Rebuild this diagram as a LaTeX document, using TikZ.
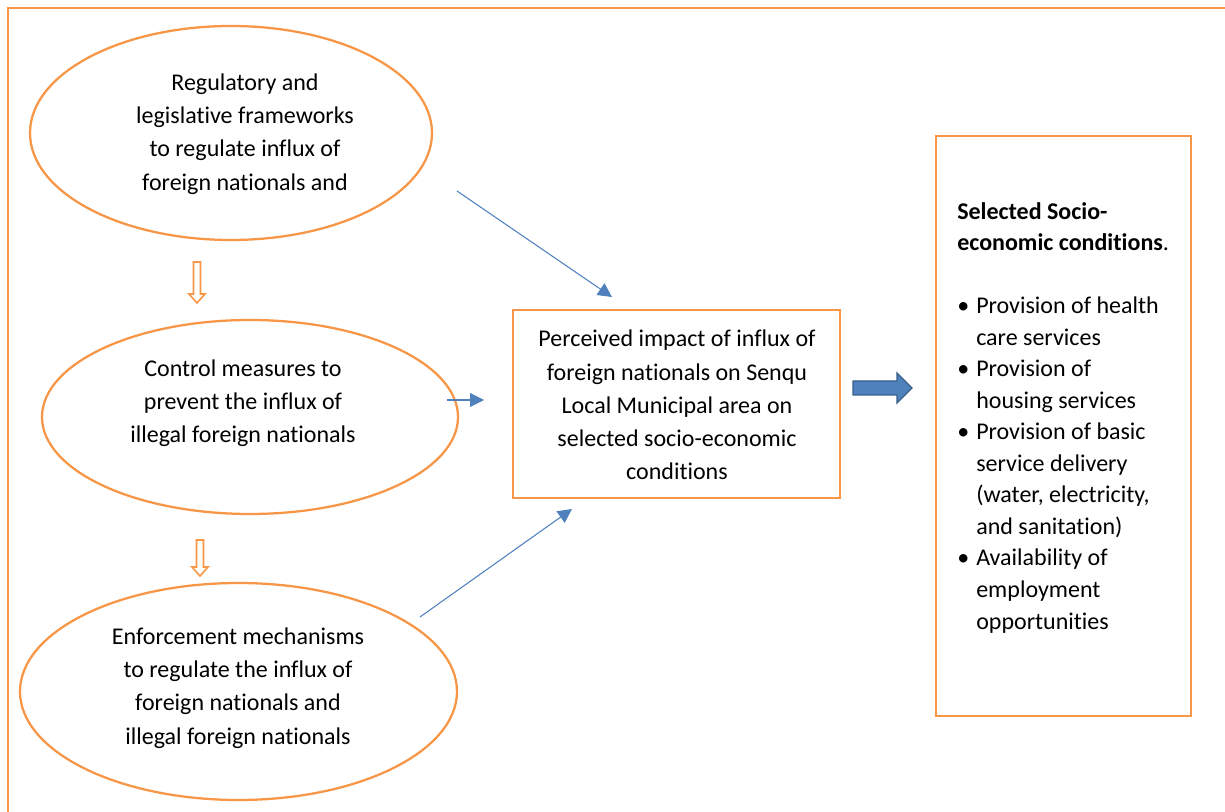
\documentclass[tikz,border=0pt]{standalone}
\usepackage{fontspec}
\setmainfont{Carlito}[Ligatures={NoCommon,NoRequired,NoContextual}]
\usetikzlibrary{shapes.geometric,arrows.meta}
\definecolor{orng}{HTML}{F79646}
\definecolor{blu}{HTML}{4F81BD}
\definecolor{bludark}{HTML}{385D8A}
\begin{document}
\begin{tikzpicture}[x=0.75pt,y=-0.75pt,
  oval/.style={draw=orng,line width=1.7pt,ellipse,inner sep=0pt},
  txt/.style={align=center,font=\fontsize{18}{24.9}\selectfont,inner sep=0pt},
  boxo/.style={draw=orng,line width=1.7pt,rectangle,inner sep=0pt},
  conn/.style={draw=blu,line width=0.8pt,-{Triangle[length=10.5pt,width=10.5pt]}},
  hollow/.style={draw=orng,line width=1.2pt,fill=white,line join=miter},
  block/.style={draw=bludark,line width=1pt,fill=blu}]
\useasboundingbox (0,0) rectangle (1225,812);
% outer frame
\draw[orng,line width=1.7pt] (8,812) -- (8,8) -- (1225,8);
% ellipses
\node[oval,minimum width=301.5pt,minimum height=160.5pt] (e1) at (231,133) {};
\node[txt] (t1) at (245,134) {Regulatory and\\legislative frameworks\\to regulate influx of\\foreign nationals and};
\node[oval,minimum width=312pt,minimum height=145.5pt] (e2) at (250,417) {};
\node[txt] (t2) at (243,403) {Control measures to\\prevent the influx of\\illegal foreign nationals};
\node[oval,minimum width=327.75pt,minimum height=162.75pt] (e3) at (238.5,691.5) {};
\node[txt] (t3) at (238,688) {Enforcement mechanisms\\to regulate the influx of\\foreign nationals and\\illegal foreign nationals};
% middle box
\node[boxo,minimum width=245.25pt,minimum height=141pt] (mid) at (676.5,404) {};
\node[txt] (tm) at (677,405) {Perceived impact of influx of\\foreign nationals on Senqu\\Local Municipal area on\\selected socio-economic\\conditions};
% right box
\node[boxo,minimum width=191.25pt,minimum height=435pt] (right) at (1063.5,426) {};
\node[anchor=north west,align=left,inner sep=0pt,font=\fontsize{18}{23.65}\selectfont] (tr) at (957,202) {%
\textbf{Selected Socio-}\\
\textbf{economic conditions}.\\
\mbox{}\\
\makebox[14.25pt][l]{\textbullet}Provision of health\\
\hspace*{14.25pt}care services\\
\makebox[14.25pt][l]{\textbullet}Provision of\\
\hspace*{14.25pt}housing services\\
\makebox[14.25pt][l]{\textbullet}Provision of basic\\
\hspace*{14.25pt}service delivery\\
\hspace*{14.25pt}(water, electricity,\\
\hspace*{14.25pt}and sanitation)\\
\makebox[14.25pt][l]{\textbullet}Availability of\\
\hspace*{14.25pt}employment\\
\hspace*{14.25pt}opportunities};
% blue connectors
\coordinate (s1) at (457,191);
\coordinate (d1) at (612,297);
\coordinate (s2) at (447,400);
\coordinate (d2) at (484,400);
\coordinate (s3) at (420,617);
\coordinate (d3) at (572,509);
\draw[conn] (s1) -- (d1);
\draw[conn] (s2) -- (d2);
\draw[conn] (s3) -- (d3);
% hollow orange arrows
\draw[hollow] (193.5,262) -- (200.5,262) -- (200.5,294) -- (205,294) -- (197,303) -- (189,294) -- (193.5,294) -- cycle;
\draw[hollow] (196.5,540) -- (203.5,540) -- (203.5,567) -- (208,567) -- (200,576) -- (192,567) -- (196.5,567) -- cycle;
% block arrow
\draw[block] (853,381) -- (897,381) -- (897,373) -- (912,388) -- (897,403) -- (897,395) -- (853,395) -- cycle;
\end{tikzpicture}
\end{document}
